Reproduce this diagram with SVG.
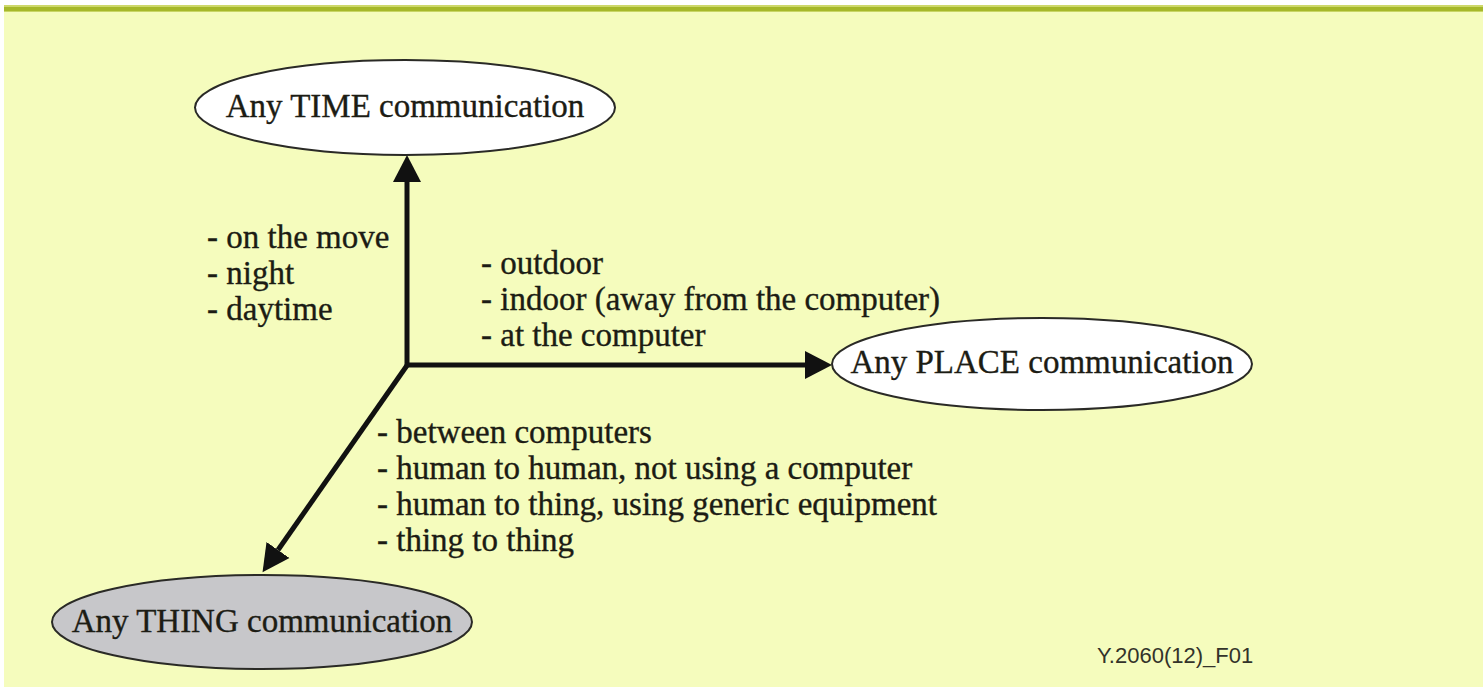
<svg xmlns="http://www.w3.org/2000/svg" width="1483" height="687" viewBox="0 0 1483 687">
  <style>
    .node { stroke: #2a2a26; stroke-width: 2; }
    .label { font-family: "Liberation Serif", "Times New Roman", serif; font-size: 33px; fill: #1c1c14; stroke: #1c1c14; stroke-width: 0.35; }
    .title { text-anchor: middle; }
    .edge { stroke: #111; stroke-width: 5; fill: none; }
    .code { font-family: "Liberation Sans", Arial, sans-serif; font-size: 22px; fill: #33332a; }
  </style>
  <defs>
    <marker id="head" markerUnits="userSpaceOnUse" markerWidth="28" markerHeight="30" viewBox="0 -15 28 30" refX="0" refY="0" orient="auto">
      <path d="M0,-14 L27,0 L0,14 z" fill="#111"/>
    </marker>
  </defs>

  <!-- page background and header rule -->
  <rect x="0" y="0" width="1483" height="687" fill="#ffffff"/>
  <rect x="4" y="5" width="1479" height="682" fill="#f5fcbd"/>
  <rect x="4" y="5" width="1479" height="2" fill="#cdd86a"/>
  <rect x="4" y="7" width="1479" height="4" fill="#a6b82a"/>
  <rect x="4" y="11" width="1479" height="1" fill="#c8d565"/>

  <!-- connectors -->
  <g id="connectors">
    <line class="edge" x1="407" y1="367" x2="407" y2="182" marker-end="url(#head)"/>
    <line class="edge" x1="405" y1="365" x2="805" y2="365" marker-end="url(#head)"/>
    <line class="edge" x1="408" y1="364" x2="278" y2="550" marker-end="url(#head)"/>
  </g>

  <!-- nodes -->
  <g id="node-time">
    <ellipse class="node" cx="405" cy="107.5" rx="210" ry="47.5" fill="#ffffff"/>
    <text class="label title" x="405" y="117">Any TIME communication</text>
  </g>
  <g id="node-place">
    <ellipse class="node" cx="1042" cy="364" rx="210" ry="46" fill="#ffffff"/>
    <text class="label title" x="1042" y="373">Any PLACE communication</text>
  </g>
  <g id="node-thing">
    <ellipse class="node" cx="262" cy="622" rx="210" ry="47" fill="#c7c7ca"/>
    <text class="label title" x="262" y="632">Any THING communication</text>
  </g>

  <!-- axis annotations -->
  <g id="time-notes">
    <text class="label" x="207" y="248">- on the move</text>
    <text class="label" x="207" y="284">- night</text>
    <text class="label" x="207" y="320">- daytime</text>
  </g>
  <g id="place-notes">
    <text class="label" x="481" y="274">- outdoor</text>
    <text class="label" x="481" y="310">- indoor (away from the computer)</text>
    <text class="label" x="481" y="346">- at the computer</text>
  </g>
  <g id="thing-notes">
    <text class="label" x="377" y="443">- between computers</text>
    <text class="label" x="377" y="479">- human to human, not using a computer</text>
    <text class="label" x="377" y="515">- human to thing, using generic equipment</text>
    <text class="label" x="377" y="551">- thing to thing</text>
  </g>

  <text class="code" x="1097" y="663">Y.2060(12)_F01</text>
</svg>
